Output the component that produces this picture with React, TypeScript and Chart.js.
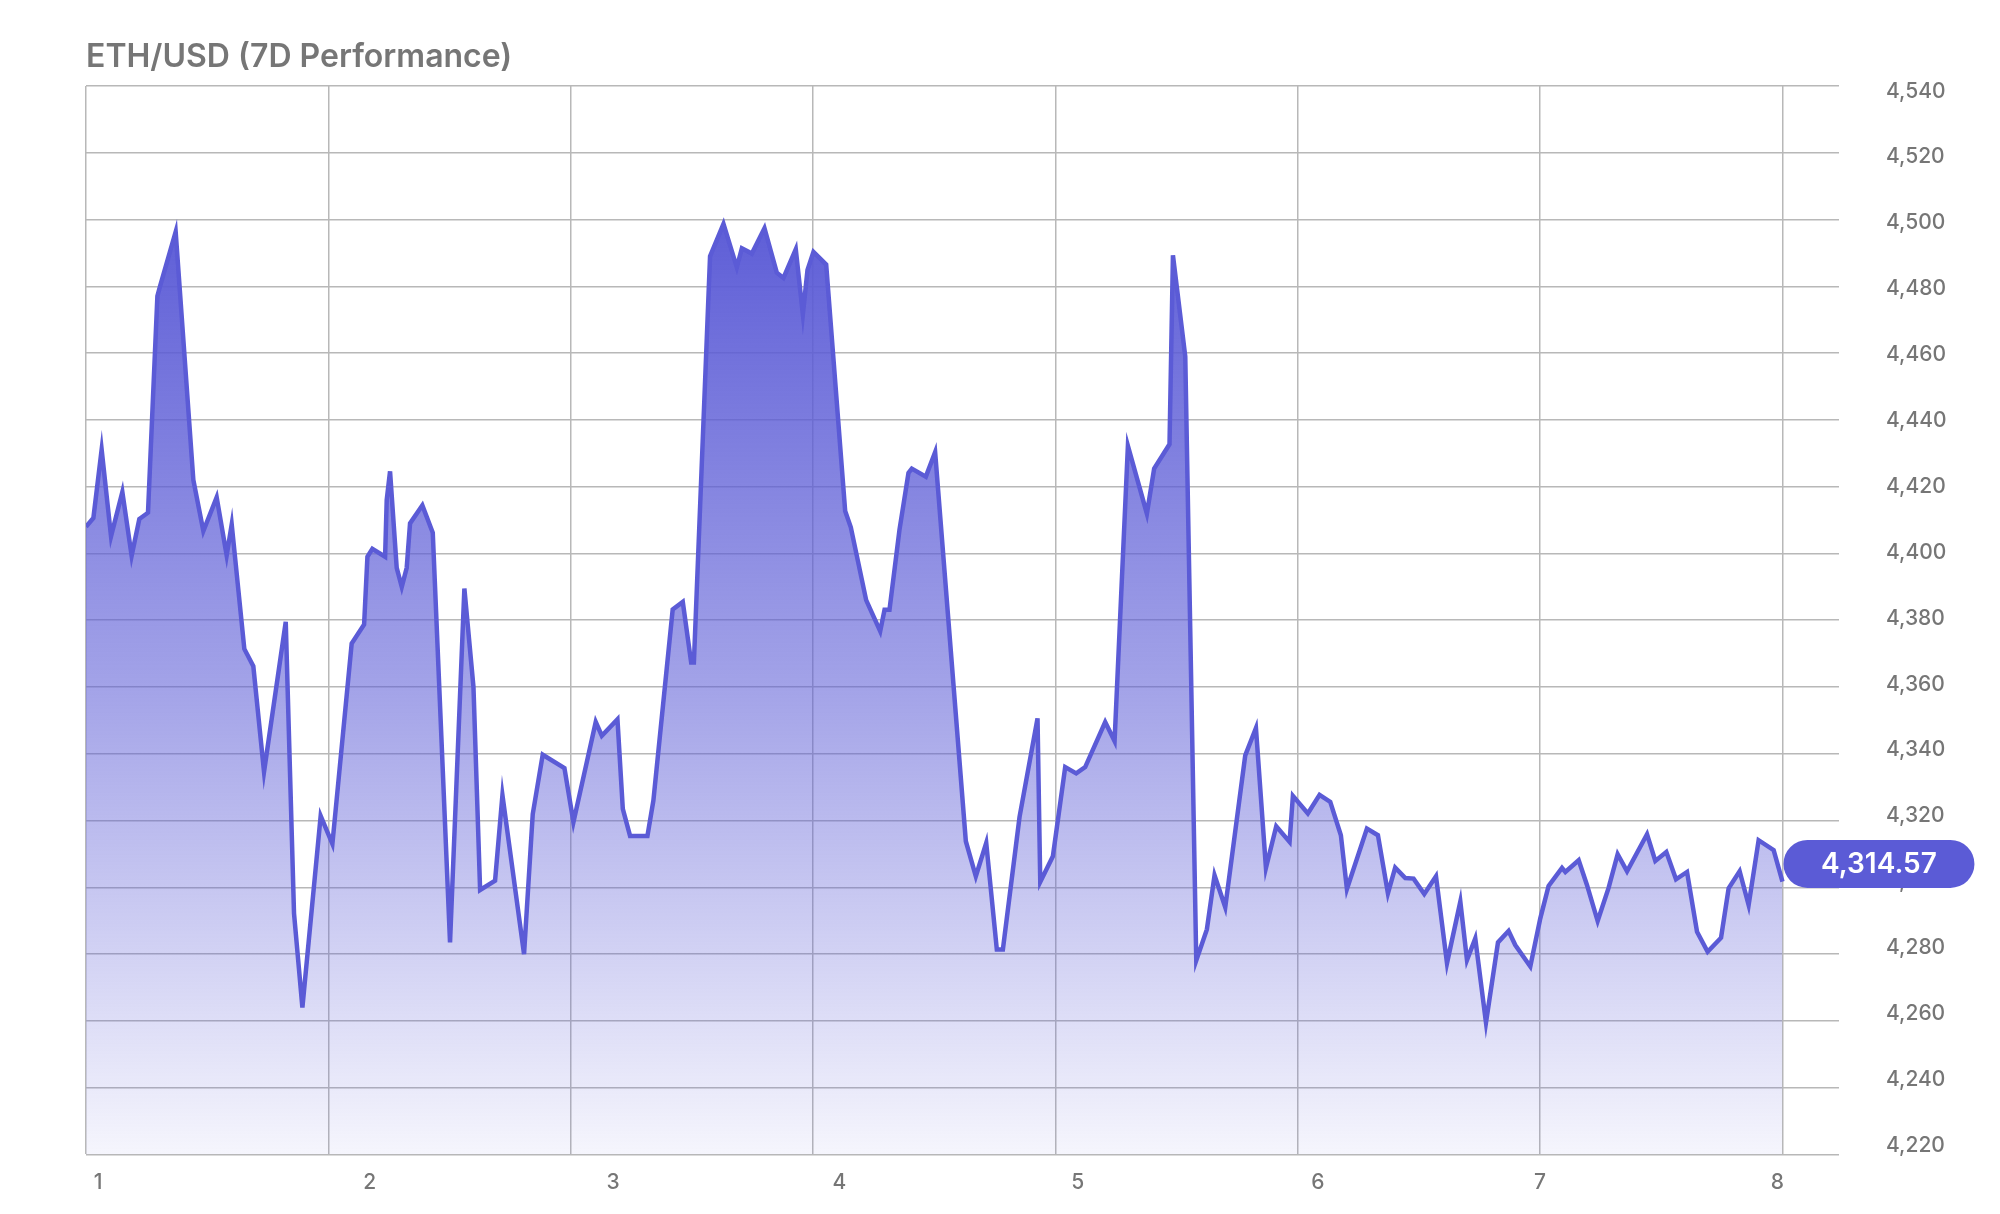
import React, { useEffect, useRef } from 'react';
import { Chart, registerables } from 'chart.js';

Chart.register(...registerables);

// ---------- data ----------
const TITLE = 'ETH/USD (7D Performance)';

// hours since start of the 7-day window
const HOURS = [
  0, 0.73, 1.55, 2.48, 3.6, 4.52, 5.28, 6.14, 7.07, 7.33,
  8.88, 10.63, 11.62, 12.94, 13.93, 14.43, 15.68, 16.57, 17.63, 19.78,
  20.6, 21.43, 23.24, 24.4, 26.31, 27.54, 27.87, 28.36, 29.62, 29.78,
  30.11, 30.77, 31.27, 31.76, 32.09, 33.31, 34.34, 36.05, 37.47, 38.37,
  39.03, 40.51, 41.24, 43.38, 44.24, 45.23, 47.38, 48.27, 50.48, 51.08,
  52.63, 53.16, 53.88, 55.6, 56.19, 58.1, 59.1, 59.93, 60.2, 61.8,
  63.13, 64.45, 64.95, 65.94, 67.19, 68.41, 69.07, 70.29, 70.99, 71.45,
  72.04, 73.3, 75.18, 75.74, 77.26, 78.65, 79.08, 79.57, 80.56, 81.45,
  81.78, 83.17, 84.09, 87.13, 88.12, 89.15, 90.2, 90.8, 92.45, 94.23,
  94.5, 95.75, 96.97, 98.06, 98.95, 100.93, 101.86, 103.18, 105.06, 105.78,
  107.3, 107.64, 108.86, 109.95, 111.0, 111.76, 112.82, 114.8, 115.86, 116.85,
  117.87, 119.19, 119.52, 121.0, 122.16, 123.22, 124.27, 124.87, 126.85, 127.94,
  128.93, 129.65, 130.65, 131.47, 132.53, 133.69, 134.78, 136.1, 136.76, 137.58,
  138.64, 139.83, 140.88, 141.54, 143.03, 144.02, 144.84, 146.17, 146.5, 147.82,
  148.64, 149.7, 150.79, 151.68, 152.61, 154.59, 155.41, 156.5, 157.46, 158.55,
  159.54, 160.59, 161.92, 162.67, 163.76, 164.65, 165.64, 167.13, 168.0,
];

const PRICES = [
  4408, 4410.6, 4431.1, 4405.1, 4418.4, 4399.3, 4410.3, 4412.2, 4477.1, 4480,
  4496.3, 4422.0, 4406.7, 4416.8, 4399.4, 4408.7, 4371.4, 4366.2, 4334.6, 4379.5,
  4292.2, 4264.0, 4321.4, 4313.0, 4373.0, 4378.7, 4399.0, 4401.4, 4399.0, 4416.0,
  4424.6, 4395.7, 4390.0, 4395.7, 4409.0, 4414.4, 4406.2, 4283.5, 4389.5, 4360.0,
  4299.2, 4302.0, 4327.6, 4280.0, 4321.9, 4339.7, 4335.7, 4319.5, 4349.5, 4345.4,
  4350.3, 4323.5, 4315.4, 4315.4, 4326.0, 4383.2, 4385.5, 4367.3, 4367.3, 4489.0,
  4498.7, 4485.7, 4491.4, 4489.8, 4497.4, 4484.1, 4482.5, 4491.1, 4471.6, 4484.9,
  4490.3, 4486.5, 4412.7, 4407.8, 4386.0, 4376.7, 4383.1, 4383.1, 4407.1, 4424.1,
  4425.4, 4423.0, 4430.3, 4313.8, 4303.3, 4313.3, 4281.4, 4281.4, 4321.1, 4350.6,
  4301.6, 4309.3, 4336.0, 4334.1, 4336.0, 4349.5, 4343.8, 4432.2, 4411.9, 4425.4,
  4432.7, 4489.3, 4459.0, 4278.1, 4287.4, 4303.6, 4294.0, 4339.5, 4347.7, 4305.8,
  4318.3, 4313.6, 4327.4, 4322.1, 4327.7, 4325.6, 4315.6, 4299.5, 4317.6, 4315.6,
  4298.2, 4305.9, 4302.8, 4302.6, 4298.0, 4303.3, 4277.3, 4295.7, 4278.2, 4284.7,
  4259.5, 4283.5, 4286.9, 4282.7, 4276.3, 4290.7, 4300.4, 4305.8, 4304.6, 4308.1,
  4300.7, 4289.9, 4299.9, 4309.9, 4304.8, 4315.9, 4307.9, 4310.6, 4302.4, 4304.6,
  4286.7, 4280.7, 4284.9, 4299.7, 4304.8, 4294.7, 4314.1, 4311.1, 4301.7,
];

const DAY_GRID_HOURS = [0, 24, 48, 72, 96, 120, 144, 168];
const DAY_LABEL_HOURS = [1.2, 28.1, 52.2, 74.6, 98.2, 122.0, 144.0, 167.5];
const DAY_LABELS = ['1', '2', '3', '4', '5', '6', '7', '8'];

const PRICE_TICKS = [
  4220, 4240, 4260, 4280, 4300, 4320, 4340, 4360, 4380,
  4400, 4420, 4440, 4460, 4480, 4500, 4520, 4540,
];

const LAST_PRICE_LABEL = '4,314.57';
const BADGE_PRICE = 4307;
const BADGE_HOUR = 168;

// axis ranges
const X_MAX = 173.6;
const Y_MIN = 4220;
const Y_MAX = 4540;
const Y_LABEL_MIN = 4217.3;
const Y_LABEL_MAX = 4541.6;

// ---------- styles ----------
const ACCENT = '#5B5BD6';
const GRID = '#b8b8b8';
const TEXT = '#767676';
const FONT = 'Inter, "Noto Sans", sans-serif';

const badgePlugin = {
  id: 'priceBadge',
  afterDraw(chart: any) {
    const { ctx, scales } = chart;
    const x0 = scales.x.getPixelForValue(BADGE_HOUR) + 1;
    const yc = scales.y.getPixelForValue(BADGE_PRICE);
    const w = 191;
    const h = 48;
    const r = h / 2;
    const top = yc - h / 2;
    ctx.save();
    ctx.fillStyle = ACCENT;
    ctx.beginPath();
    ctx.moveTo(x0 + r, top);
    ctx.lineTo(x0 + w - r, top);
    ctx.arc(x0 + w - r, yc, r, -Math.PI / 2, Math.PI / 2);
    ctx.lineTo(x0 + r, top + h);
    ctx.arc(x0 + r, yc, r, Math.PI / 2, (3 * Math.PI) / 2);
    ctx.closePath();
    ctx.fill();
    ctx.fillStyle = '#ffffff';
    ctx.font = `600 28px ${FONT}`;
    ctx.textAlign = 'center';
    ctx.textBaseline = 'middle';
    ctx.fillText(LAST_PRICE_LABEL, x0 + w / 2, yc + 1);
    ctx.restore();
  },
};

export default function App() {
  const canvasRef = useRef<HTMLCanvasElement | null>(null);

  useEffect(() => {
    const canvas = canvasRef.current;
    if (!canvas) return;
    const points = HOURS.map((h, i) => ({ x: h, y: PRICES[i] }));
    const dataMax = Math.max(...PRICES);

    const chart = new Chart(canvas, {
      type: 'line',
      data: {
        datasets: [
          {
            data: points,
            xAxisID: 'x',
            yAxisID: 'y',
            borderColor: ACCENT,
            borderWidth: 4.5,
            borderJoinStyle: 'miter',
            pointRadius: 0,
            tension: 0,
            fill: 'start',
            backgroundColor: (ctx: any) => {
              const c = ctx.chart;
              const area = c.chartArea;
              if (!area) return 'rgba(91,91,214,0.4)';
              const yTop = c.scales.y.getPixelForValue(dataMax);
              const g = c.ctx.createLinearGradient(0, yTop, 0, area.bottom);
              g.addColorStop(0, 'rgba(91,91,214,0.98)');
              g.addColorStop(0.5, 'rgba(91,91,214,0.56)');
              g.addColorStop(1, 'rgba(91,91,214,0.06)');
              return g;
            },
          },
        ],
      },
      options: {
        animation: false,
        responsive: true,
        maintainAspectRatio: false,
        layout: { padding: { left: 86, right: 53, top: 0, bottom: 0 } },
        plugins: {
          legend: { display: false },
          tooltip: { enabled: false },
          title: {
            display: true,
            text: TITLE,
            align: 'start',
            color: TEXT,
            font: { family: FONT, size: 32, weight: '600' },
            padding: { top: 38, bottom: 9.6 },
          },
        },
        scales: {
          x: {
            type: 'linear',
            position: 'bottom',
            bounds: 'data',
            min: 0,
            max: X_MAX,
            z: 1,
            afterBuildTicks: (s: any) => {
              s.ticks = DAY_GRID_HOURS.map((v) => ({ value: v }));
            },
            afterFit: (s: any) => {
              s.height = 0;
            },
            grid: { color: GRID, lineWidth: 1.5, drawTicks: false },
            border: { display: false },
            ticks: { display: false },
          },
          xl: {
            type: 'linear',
            position: 'bottom',
            bounds: 'data',
            min: 0,
            max: X_MAX,
            afterBuildTicks: (s: any) => {
              s.ticks = DAY_LABEL_HOURS.map((v) => ({ value: v }));
            },
            afterFit: (s: any) => {
              s.height = 58;
            },
            grid: { display: false, drawTicks: false },
            border: { display: false },
            ticks: {
              autoSkip: false,
              maxRotation: 0,
              padding: 16,
              color: TEXT,
              font: { family: FONT, size: 21, weight: '500' },
              callback: (_v: any, i: number) => DAY_LABELS[i],
            },
          },
          y: {
            type: 'linear',
            position: 'left',
            bounds: 'data',
            min: Y_MIN,
            max: Y_MAX,
            z: 1,
            afterBuildTicks: (s: any) => {
              s.ticks = PRICE_TICKS.map((v) => ({ value: v }));
            },
            afterFit: (s: any) => {
              s.width = 0;
            },
            grid: { color: GRID, lineWidth: 1.5, drawTicks: false },
            border: { display: false },
            ticks: { display: false },
          },
          yl: {
            type: 'linear',
            position: 'right',
            bounds: 'data',
            min: Y_LABEL_MIN,
            max: Y_LABEL_MAX,
            afterBuildTicks: (s: any) => {
              s.ticks = PRICE_TICKS.map((v) => ({ value: v }));
            },
            afterFit: (s: any) => {
              s.width = 108;
            },
            grid: { display: false, drawTicks: false },
            border: { display: false },
            ticks: {
              padding: 47,
              color: TEXT,
              font: { family: FONT, size: 21, weight: '500' },
              callback: (v: any) => Number(v).toLocaleString('en-US'),
            },
          },
        },
      } as any,
      plugins: [badgePlugin],
    });

    return () => chart.destroy();
  }, []);

  return (
    <div
      style={{
        position: 'fixed',
        left: 0,
        top: 0,
        width: 2000,
        height: 1214,
        background: '#ffffff',
      }}
    >
      <canvas ref={canvasRef} />
    </div>
  );
}
